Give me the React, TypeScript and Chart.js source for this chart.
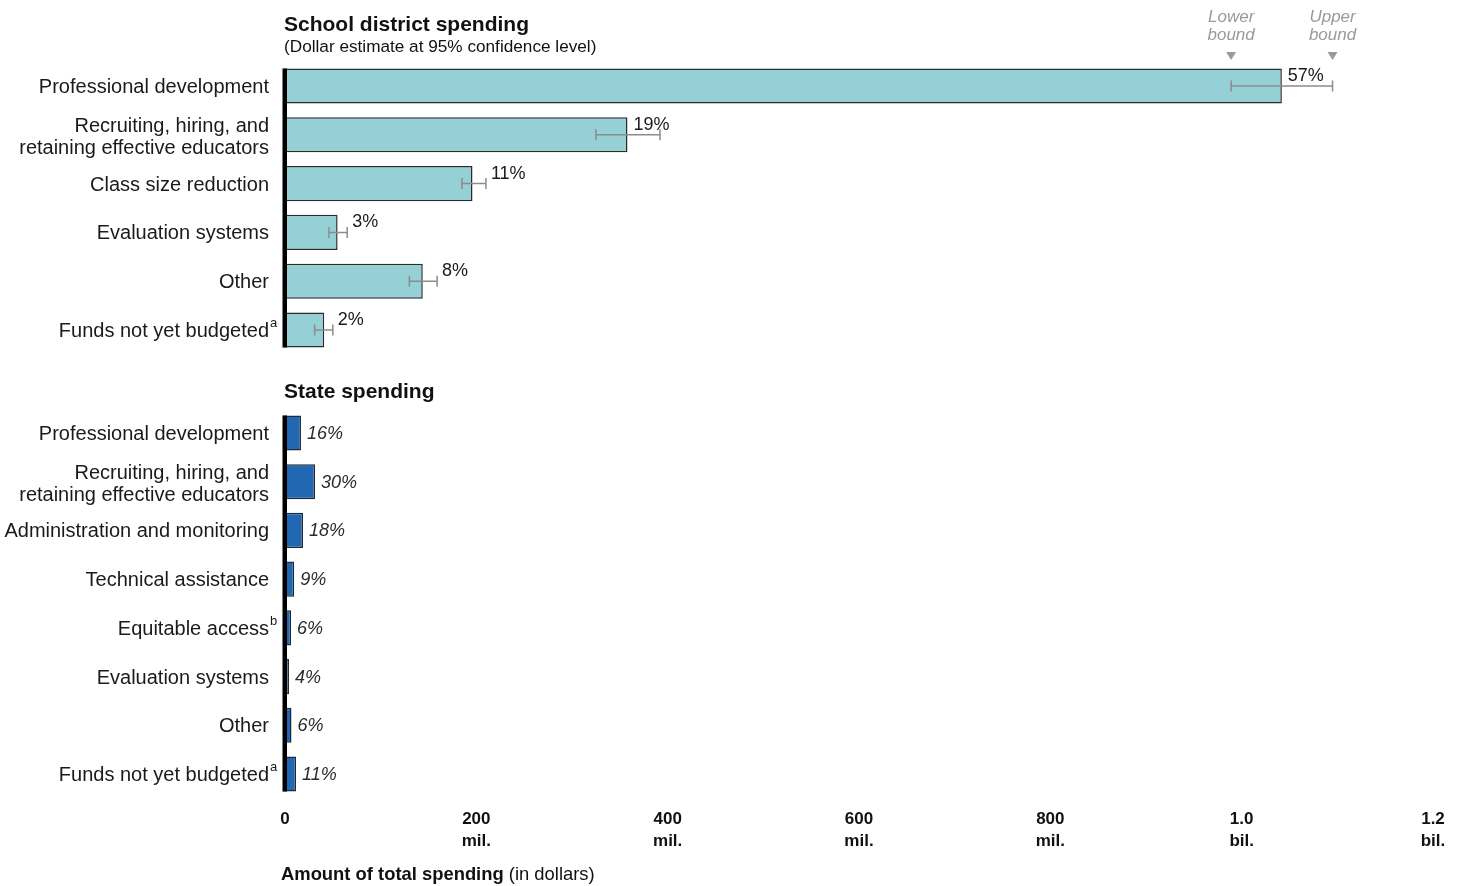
import React, { useEffect, useRef } from 'react';
import { Chart, registerables } from 'chart.js';

Chart.register(...registerables);

const FONT = "'Liberation Sans', Arial, Helvetica, sans-serif";

// ---- School district spending ----
const districtCategories: string[][] = [
  ['Professional development'],
  ['Recruiting, hiring, and', 'retaining effective educators'],
  ['Class size reduction'],
  ['Evaluation systems'],
  ['Other'],
  ['Funds not yet budgeted'],
];
const districtNotes = ['', '', '', '', '', 'a'];
const districtValues = [1042e6, 358e6, 196e6, 55e6, 144e6, 41e6];
const districtLower = [989e6, 325e6, 185e6, 46e6, 130e6, 31e6];
const districtUpper = [1095e6, 392e6, 210e6, 65e6, 159e6, 50e6];
const districtShares = ['57%', '19%', '11%', '3%', '8%', '2%'];

// ---- State spending ----
const stateCategories: string[][] = [
  ['Professional development'],
  ['Recruiting, hiring, and', 'retaining effective educators'],
  ['Administration and monitoring'],
  ['Technical assistance'],
  ['Equitable access'],
  ['Evaluation systems'],
  ['Other'],
  ['Funds not yet budgeted'],
];
const stateNotes = ['', '', '', '', 'b', '', '', 'a'];
const stateValues = [16.7e6, 31.4e6, 18.8e6, 9.6e6, 6.3e6, 4.2e6, 6.8e6, 11.5e6];
const stateShares = ['16%', '30%', '18%', '9%', '6%', '4%', '6%', '11%'];

// ---- Axis ----
const xTickValues = [0, 200e6, 400e6, 600e6, 800e6, 1000e6, 1200e6];
const xTickLabels: string[][] = [
  ['0'],
  ['200', 'mil.'],
  ['400', 'mil.'],
  ['600', 'mil.'],
  ['800', 'mil.'],
  ['1.0', 'bil.'],
  ['1.2', 'bil.'],
];
const xMax = 1.2e9;
const boundLabels = [['Lower', 'bound'], ['Upper', 'bound']];

const W = 1461;
const H = 886;

function drawCategoryLabels(chart: any, labels: string[][], notes: string[]) {
  const { ctx, chartArea } = chart;
  const meta = chart.getDatasetMeta(0);
  const right = chartArea.left - 16;
  ctx.save();
  ctx.fillStyle = '#1a1a1a';
  ctx.textBaseline = 'middle';
  labels.forEach((lines, i) => {
    const cy = meta.data[i].y + (lines.length > 1 ? 2.5 : 1.5);
    const lh = 22;
    const start = cy - ((lines.length - 1) * lh) / 2;
    ctx.font = `20px ${FONT}`;
    ctx.textAlign = 'right';
    lines.forEach((t, j) => ctx.fillText(t, right, start + j * lh));
    if (notes[i]) {
      ctx.font = `13px ${FONT}`;
      ctx.textAlign = 'left';
      ctx.fillText(notes[i], right + 1, start + (lines.length - 1) * lh - 8);
    }
  });
  ctx.restore();
}

function drawAxisLine(chart: any) {
  const { ctx, chartArea } = chart;
  const meta = chart.getDatasetMeta(0);
  const first = meta.data[0];
  const last = meta.data[meta.data.length - 1];
  const top = first.y - first.height / 2;
  const bottom = last.y + last.height / 2;
  ctx.save();
  ctx.fillStyle = '#000';
  ctx.fillRect(chartArea.left - 2.5, top, 4.5, bottom - top);
  ctx.restore();
}

const districtPlugin = {
  id: 'districtDecor',
  afterDatasetsDraw(chart: any) {
    const { ctx } = chart;
    const xs = chart.scales.x;
    const meta = chart.getDatasetMeta(0);
    ctx.save();
    // error bars
    ctx.strokeStyle = '#8c8c8c';
    ctx.lineWidth = 1.5;
    districtLower.forEach((lo, i) => {
      const cy = meta.data[i].y;
      const x1 = xs.getPixelForValue(lo);
      const x2 = xs.getPixelForValue(districtUpper[i]);
      ctx.beginPath();
      ctx.moveTo(x1, cy);
      ctx.lineTo(x2, cy);
      ctx.moveTo(x1, cy - 5.5);
      ctx.lineTo(x1, cy + 5.5);
      ctx.moveTo(x2, cy - 5.5);
      ctx.lineTo(x2, cy + 5.5);
      ctx.stroke();
    });
    // value labels
    ctx.fillStyle = '#1a1a1a';
    ctx.font = `18px ${FONT}`;
    ctx.textAlign = 'left';
    ctx.textBaseline = 'middle';
    districtShares.forEach((s, i) => {
      const cy = meta.data[i].y;
      const end = xs.getPixelForValue(districtValues[i]);
      const up = xs.getPixelForValue(districtUpper[i]);
      const lx = up - end > 25 ? end + 6 : up + 5;
      ctx.fillText(s, lx, cy - 10);
    });
    // bound annotations
    const bx = [xs.getPixelForValue(districtLower[0]), xs.getPixelForValue(districtUpper[0])];
    ctx.fillStyle = '#9a9a9a';
    ctx.font = `italic 17px ${FONT}`;
    ctx.textAlign = 'center';
    boundLabels.forEach((lines, k) => {
      lines.forEach((t, j) => ctx.fillText(t, bx[k], 17 + j * 18));
      ctx.beginPath();
      ctx.moveTo(bx[k] - 5, 52);
      ctx.lineTo(bx[k] + 5, 52);
      ctx.lineTo(bx[k], 60);
      ctx.closePath();
      ctx.fill();
    });
    ctx.restore();
    drawAxisLine(chart);
    drawCategoryLabels(chart, districtCategories, districtNotes);
  },
};

const statePlugin = {
  id: 'stateDecor',
  afterDatasetsDraw(chart: any) {
    const { ctx } = chart;
    const xs = chart.scales.x;
    const meta = chart.getDatasetMeta(0);
    ctx.save();
    ctx.fillStyle = '#2a2a2a';
    ctx.font = `italic 18px ${FONT}`;
    ctx.textAlign = 'left';
    ctx.textBaseline = 'middle';
    stateShares.forEach((s, i) => {
      const cy = meta.data[i].y + 1;
      const end = xs.getPixelForValue(stateValues[i]);
      ctx.fillText(s, end + 6, cy);
    });
    ctx.restore();
    drawAxisLine(chart);
    drawCategoryLabels(chart, stateCategories, stateNotes);
  },
};

function baseOptions(padTop: number, padBottom: number, showX: boolean): any {
  return {
    indexAxis: 'y',
    responsive: false,
    animation: false,
    events: [],
    layout: { padding: { left: 285, right: W - 1433, top: padTop, bottom: padBottom } },
    plugins: { legend: { display: false }, tooltip: { enabled: false }, title: { display: false } },
    scales: {
      y: { type: 'category', display: false, grid: { display: false } },
      x: {
        type: 'linear',
        min: 0,
        max: xMax,
        display: showX,
        grid: { display: false, drawTicks: false },
        border: { display: false },
        afterBuildTicks: (s: any) => {
          s.ticks = xTickValues.map((v) => ({ value: v }));
        },
        afterFit: (s: any) => {
          s.height = showX ? 60 : 0;
        },
        ticks: {
          padding: 10,
          maxRotation: 0,
          autoSkip: false,
          color: '#111',
          font: { family: FONT, size: 17, weight: 'bold', lineHeight: 1.3 },
          callback: (_v: any, i: number) => xTickLabels[i],
        },
      },
    },
  };
}

export default function App() {
  const topRef = useRef<HTMLCanvasElement>(null);
  const botRef = useRef<HTMLCanvasElement>(null);

  useEffect(() => {
    const top = new Chart(topRef.current as HTMLCanvasElement, {
      type: 'bar',
      data: {
        labels: districtCategories.map((l) => l.join(' ')),
        datasets: [
          {
            data: districtValues,
            backgroundColor: '#94d0d6',
            borderColor: '#2b2b2b',
            borderWidth: 1.5,
            borderSkipped: false,
            categoryPercentage: 1,
            barPercentage: 0.72,
          },
        ],
      },
      options: baseOptions(61.6, H - 354.4, false),
      plugins: [districtPlugin],
    });
    const bot = new Chart(botRef.current as HTMLCanvasElement, {
      type: 'bar',
      data: {
        labels: stateCategories.map((l) => l.join(' ')),
        datasets: [
          {
            data: stateValues,
            backgroundColor: '#2167b2',
            borderColor: '#1e2a38',
            borderWidth: 1.5,
            borderSkipped: false,
            categoryPercentage: 1,
            barPercentage: 0.72,
          },
        ],
      },
      options: baseOptions(408.6, H - 798.4 - 60, true),
      plugins: [statePlugin],
    });
    return () => {
      top.destroy();
      bot.destroy();
    };
  }, []);

  const text: React.CSSProperties = { position: 'absolute', fontFamily: FONT, color: '#111', whiteSpace: 'nowrap' };

  return (
    <div style={{ position: 'fixed', left: 0, top: 0, width: W, height: H, background: '#fff', overflow: 'hidden' }}>
      <canvas ref={topRef} width={W} height={H} style={{ position: 'absolute', left: 0, top: 0 }} />
      <canvas ref={botRef} width={W} height={H} style={{ position: 'absolute', left: 0, top: 0 }} />
      <div style={{ ...text, left: 284, top: 12, fontSize: 21, fontWeight: 'bold', lineHeight: '24px' }}>
        School district spending
      </div>
      <div style={{ ...text, left: 284, top: 34, fontSize: 17.2, lineHeight: '24px' }}>
        (Dollar estimate at 95% confidence level)
      </div>
      <div style={{ ...text, left: 284, top: 379, fontSize: 21, fontWeight: 'bold', lineHeight: '24px' }}>
        State spending
      </div>
      <div style={{ ...text, left: 281, top: 862, fontSize: 18.4, lineHeight: '24px' }}>
        <b>Amount of total spending</b> (in dollars)
      </div>
    </div>
  );
}
